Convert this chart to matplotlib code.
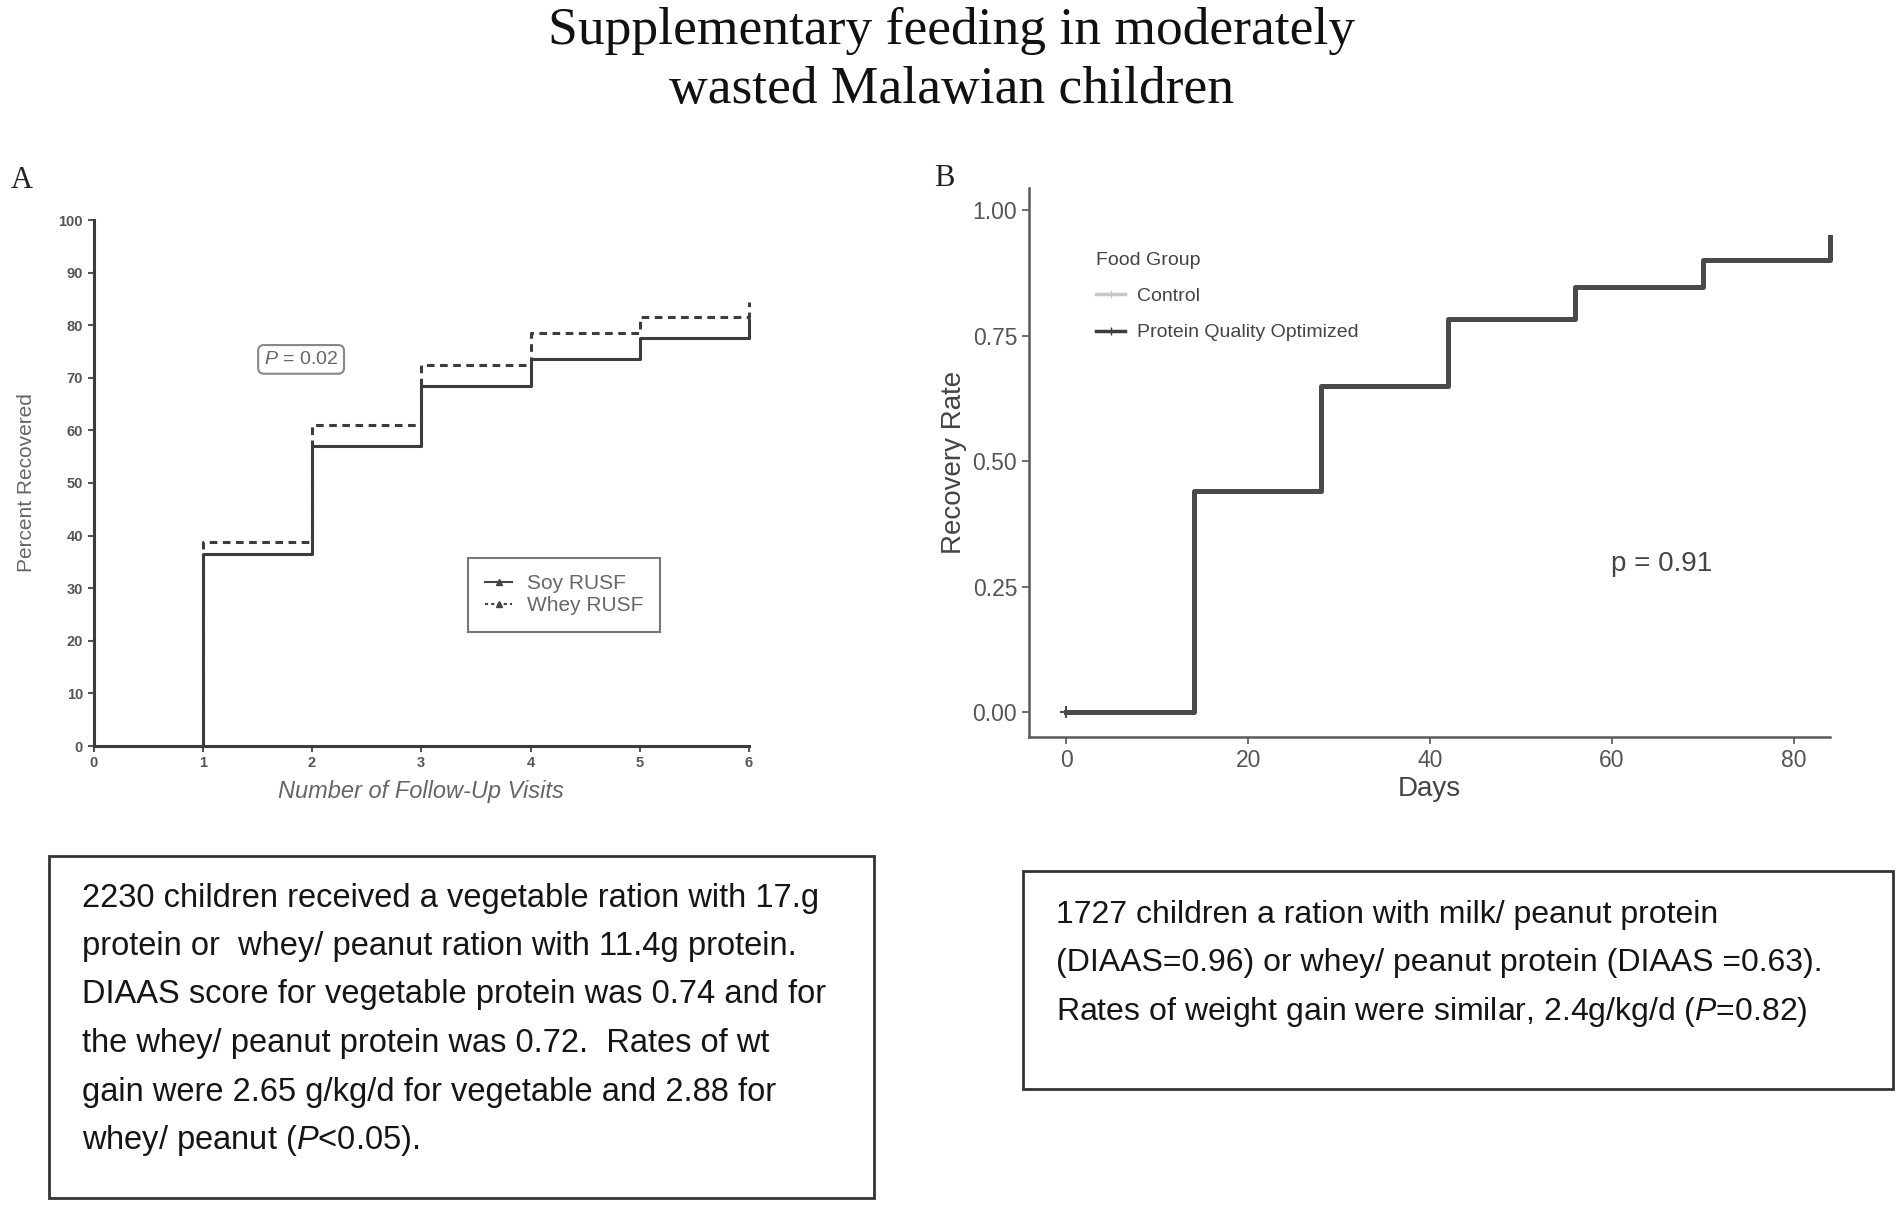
import numpy as np
import matplotlib.pyplot as plt
from matplotlib.lines import Line2D
from matplotlib.patches import Rectangle

plt.rcParams['font.family'] = ['Liberation Sans', 'DejaVu Sans']
plt.rcParams['mathtext.fontset'] = 'custom'
plt.rcParams['mathtext.it'] = 'Liberation Sans:italic'
plt.rcParams['mathtext.rm'] = 'Liberation Sans'

# Panel A: percent recovered by follow-up visit
visits = [1, 2, 3, 4, 5, 6]
soy = [36.5, 57.0, 68.5, 73.5, 77.5, 81.0]
whey = [38.8, 61.0, 72.5, 78.5, 81.5, 84.5]

# Panel B: recovery rate by day
days = [0, 14, 28, 42, 56, 70, 84]
recovery = [0.0, 0.441, 0.649, 0.783, 0.847, 0.900, 0.947]

title = "Supplementary feeding in moderately\nwasted Malawian children"

text_a = [
    "2230 children received a vegetable ration with 17.g",
    "protein or  whey/ peanut ration with 11.4g protein.",
    "DIAAS score for vegetable protein was 0.74 and for",
    "the whey/ peanut protein was 0.72.  Rates of wt",
    "gain were 2.65 g/kg/d for vegetable and 2.88 for",
    "whey/ peanut ($\\mathit{P}$<0.05).",
]
text_b = [
    "1727 children a ration with milk/ peanut protein",
    "(DIAAS=0.96) or whey/ peanut protein (DIAAS =0.63).",
    "Rates of weight gain were similar, 2.4g/kg/d ($\\mathit{P}$=0.82)",
]

W, H = 1903, 1207
fig = plt.figure(figsize=(W / 100, H / 100), dpi=100)

fig.text(0.5, 1 - 7 / H, title, ha='center', va='top', fontsize=38.5,
         family='Liberation Serif', color='#111111', linespacing=1.3)


def step_xy(x, y, start):
    # vertical from 0 at start, horizontal steps, last value as end tick
    xs = np.r_[start, x[:-1], x[-1], x[-1]]
    ys = np.r_[0, y[:-1], y[-2], y[-1]]
    return xs, ys


# ---------- Panel A ----------
axA = fig.add_axes([93.5 / W, 1 - 746 / H, 655.5 / W, 526 / H])
xs, ys = step_xy(np.array(visits, float), np.array(soy), visits[0])
axA.step(xs, ys, where='post', color='#3c3c3c', lw=2.2, clip_on=False)
xs, ys = step_xy(np.array(visits, float), np.array(whey), visits[0])
axA.step(xs, ys, where='post', color='#3c3c3c', lw=2.2, ls=(0, (2.5, 1.8)),
         clip_on=False)
axA.set_xlim(0, 6)
axA.set_ylim(0, 100)
axA.set_xticks(range(0, 7))
axA.set_yticks(range(0, 101, 10))
for s in ['top', 'right']:
    axA.spines[s].set_visible(False)
for s in ['left', 'bottom']:
    axA.spines[s].set_color('#3c3c3c')
    axA.spines[s].set_linewidth(2.2)
axA.tick_params(colors='#555555', labelsize=10.5, width=1.5, length=4)
for lab in axA.get_xticklabels() + axA.get_yticklabels():
    lab.set_fontweight('bold')
axA.set_ylabel('Percent Recovered', fontsize=15, color='#666666', labelpad=16)
axA.set_xlabel('Number of Follow-Up Visits', fontsize=17, color='#666666',
               style='italic', labelpad=7)
axA.text(1.9, 73.5, '$\\mathit{P}$ = 0.02', ha='center', va='center',
         fontsize=14, color='#666666',
         bbox=dict(boxstyle='round,pad=0.3', fc='white', ec='#888888', lw=1.5))
hA = [Line2D([], [], color='#444444', lw=1.5, marker='^', ms=4),
      Line2D([], [], color='#444444', lw=1.5, ls=(0, (1.5, 1.5)), marker='^', ms=4)]
legA = axA.legend(hA, ['Soy RUSF', 'Whey RUSF'], loc='upper left',
                  bbox_to_anchor=(0.556, 0.378), fontsize=15, handlelength=1.3,
                  frameon=True, fancybox=False, borderpad=0.8, labelspacing=0.15,
                  handletextpad=0.7)
legA.get_frame().set_edgecolor('#555555')
legA.get_frame().set_linewidth(1.5)
for t in legA.get_texts():
    t.set_color('#666666')
fig.text(22 / W, 1 - 180 / H, 'A', fontsize=22, family='Liberation Serif',
         va='center', ha='center', color='#222222')

# ---------- Panel B ----------
axB = fig.add_axes([1029 / W, 1 - 737 / H, 801 / W, 549 / H])
xs, ys = step_xy(np.array(days[1:], float), np.array(recovery[1:]), days[1])
axB.step(np.r_[days[0], xs], np.r_[recovery[0], ys], where='post',
         color='#4a4a4a', lw=3.6, clip_on=False)
axB.plot([days[0]], [recovery[0]], marker='+', color='#4a4a4a', ms=8, mew=1.5)
axB.set_xlim(-4.1, 84.0)
axB.set_ylim(-0.049, 1.044)
axB.set_xticks(range(0, 81, 20))
axB.set_yticks([0, 0.25, 0.5, 0.75, 1.0])
axB.set_yticklabels(['0.00', '0.25', '0.50', '0.75', '1.00'])
for s in ['top', 'right']:
    axB.spines[s].set_visible(False)
for s in ['left', 'bottom']:
    axB.spines[s].set_color('#5a5a5a')
    axB.spines[s].set_linewidth(1.8)
axB.tick_params(colors='#555555', labelsize=16.5, width=1.2, length=5)
axB.set_ylabel('Recovery Rate', fontsize=20, color='#444444', labelpad=4)
axB.set_xlabel('Days', fontsize=20, color='#444444', labelpad=3)
axB.text(65.5, 0.295, 'p = 0.91', ha='center', va='center', fontsize=20,
         color='#444444')
hB = [Line2D([], [], color='#c8c8c8', lw=2.5, marker='+', ms=6),
      Line2D([], [], color='#3c3c3c', lw=2.5, marker='+', ms=6)]
legB = axB.legend(hB, ['Control', 'Protein Quality Optimized'], title='Food Group',
                  loc='upper left', bbox_to_anchor=(0.062, 0.915), frameon=False,
                  fontsize=14, title_fontsize=14, handlelength=1.5,
                  labelspacing=0.95, handletextpad=0.6)
legB._legend_box.align = 'left'
for t in legB.get_texts():
    t.set_color('#444444')
legB.get_title().set_color('#444444')
fig.text(944 / W, 1 - 178 / H, 'B', fontsize=22, family='Liberation Serif',
         va='center', ha='center', color='#222222')

# ---------- Text boxes ----------
fig.add_artist(Rectangle((48.5 / W, 1 - 1198 / H), 825.5 / W, 342 / H,
                         transform=fig.transFigure, fill=False,
                         ec='#333333', lw=2))
for i, line in enumerate(text_a):
    fig.text(82.5 / W, 1 - (898 + 48.5 * i) / H, line, fontsize=23.5,
             va='center', ha='left', color='#151515')

fig.add_artist(Rectangle((1023 / W, 1 - 1089 / H), 870 / W, 218 / H,
                         transform=fig.transFigure, fill=False,
                         ec='#333333', lw=2))
for i, line in enumerate(text_b):
    fig.text(1056 / W, 1 - (915 + 48.5 * i) / H, line, fontsize=23,
             va='center', ha='left', color='#151515')

fig.savefig('out.png', dpi=100, facecolor='white')
